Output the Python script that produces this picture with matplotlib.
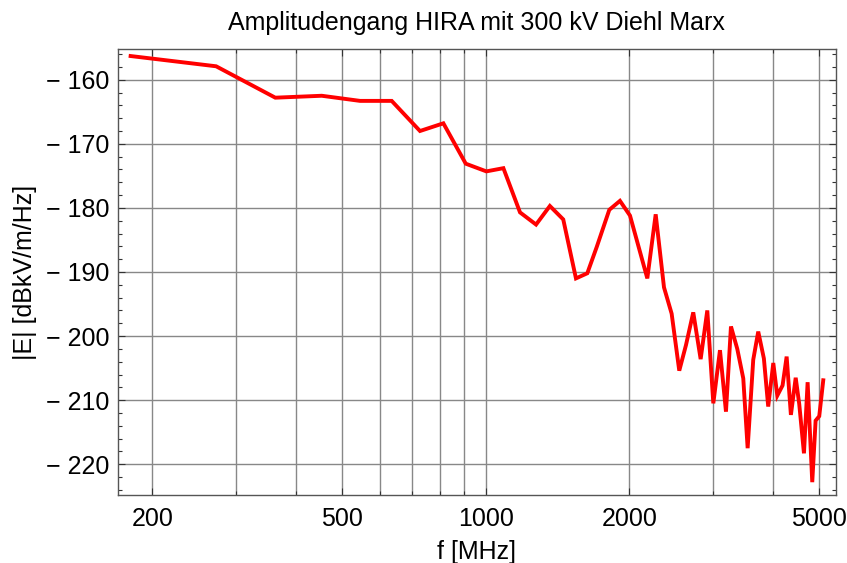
import matplotlib
matplotlib.use('Agg')
import matplotlib.pyplot as plt
from matplotlib.ticker import FixedLocator, FuncFormatter, MultipleLocator

plt.rcParams['font.family'] = ['Liberation Sans', 'DejaVu Sans']

# frequency in MHz and field amplitude in dBkV/(m Hz)
freq = [180, 272, 362, 453, 545, 635, 728, 815, 908, 1003, 1089, 1180, 1275,
        1363, 1454, 1546, 1633, 1709, 1816, 1912, 2007, 2182, 2272, 2365,
        2454, 2546, 2630, 2724, 2823, 2915, 3001, 3099, 3190, 3268, 3369,
        3468, 3542, 3639, 3728, 3831, 3912, 4009, 4087, 4193, 4276, 4365,
        4467, 4544, 4649, 4732, 4839, 4918, 5005, 5103]
amp = [-156.3, -157.9, -162.8, -162.5, -163.3, -163.3, -168.0, -166.8, -173.1,
       -174.3, -173.8, -180.7, -182.6, -179.7, -181.8, -191.0, -190.2, -186.1,
       -180.3, -178.9, -181.2, -191.0, -181.0, -192.4, -196.5, -205.4, -201.4,
       -196.3, -203.6, -196.0, -210.5, -202.2, -211.8, -198.5, -202.0, -206.6,
       -217.5, -203.7, -199.3, -203.5, -211.0, -204.2, -209.3, -207.7, -203.2,
       -212.3, -206.5, -210.6, -218.3, -207.2, -222.8, -213.2, -212.5, -206.9]

x_major = [200, 500, 1000, 2000, 5000]
x_grid = [200, 300, 400, 500, 600, 700, 800, 900, 1000, 2000, 3000, 4000, 5000]
y_major = [-160, -170, -180, -190, -200, -210, -220]

fig = plt.figure(figsize=(8.47, 5.63), dpi=100)
ax = fig.add_axes([0.1388, 0.1208, 0.8479, 0.7922])

ax.plot(freq, amp, color='#ff0000', lw=2.8, solid_joinstyle='miter', zorder=3)

ax.set_xscale('log')
ax.set_xlim(169, 5420)
ax.set_ylim(-224.8, -155.2)

ax.xaxis.set_major_locator(FixedLocator(x_major))
ax.xaxis.set_minor_locator(FixedLocator([v for v in x_grid if v not in x_major]))
ax.xaxis.set_major_formatter(FuncFormatter(lambda v, p: f'{v:.0f}'))
ax.xaxis.set_minor_formatter(FuncFormatter(lambda v, p: ''))
ax.yaxis.set_major_locator(FixedLocator(y_major))
ax.yaxis.set_minor_locator(MultipleLocator(2))
ax.yaxis.set_major_formatter(FuncFormatter(lambda v, p: f'\u2212 {abs(v):.0f}'))

ax.grid(True, which='major', color='#888888', lw=1.0)
ax.grid(True, which='minor', axis='x', color='#888888', lw=1.0)

ax.tick_params(which='both', direction='in', top=True, right=True,
               labelsize=18, color='#333333')
ax.tick_params(which='major', length=5, width=0.8)
ax.tick_params(which='minor', length=3, width=0.8)
ax.tick_params(axis='x', pad=9)
ax.tick_params(axis='y', pad=6)

for s in ax.spines.values():
    s.set_color('#555555')
    s.set_linewidth(1.0)

ax.set_title('Amplitudengang HIRA mit 300 kV Diehl Marx', fontsize=18, pad=14)
ax.set_xlabel('f [MHz]', fontsize=18, labelpad=6)
ax.set_ylabel('|E| [dBkV/m/Hz]', fontsize=18, labelpad=6)

fig.savefig('out.png', dpi=100)
